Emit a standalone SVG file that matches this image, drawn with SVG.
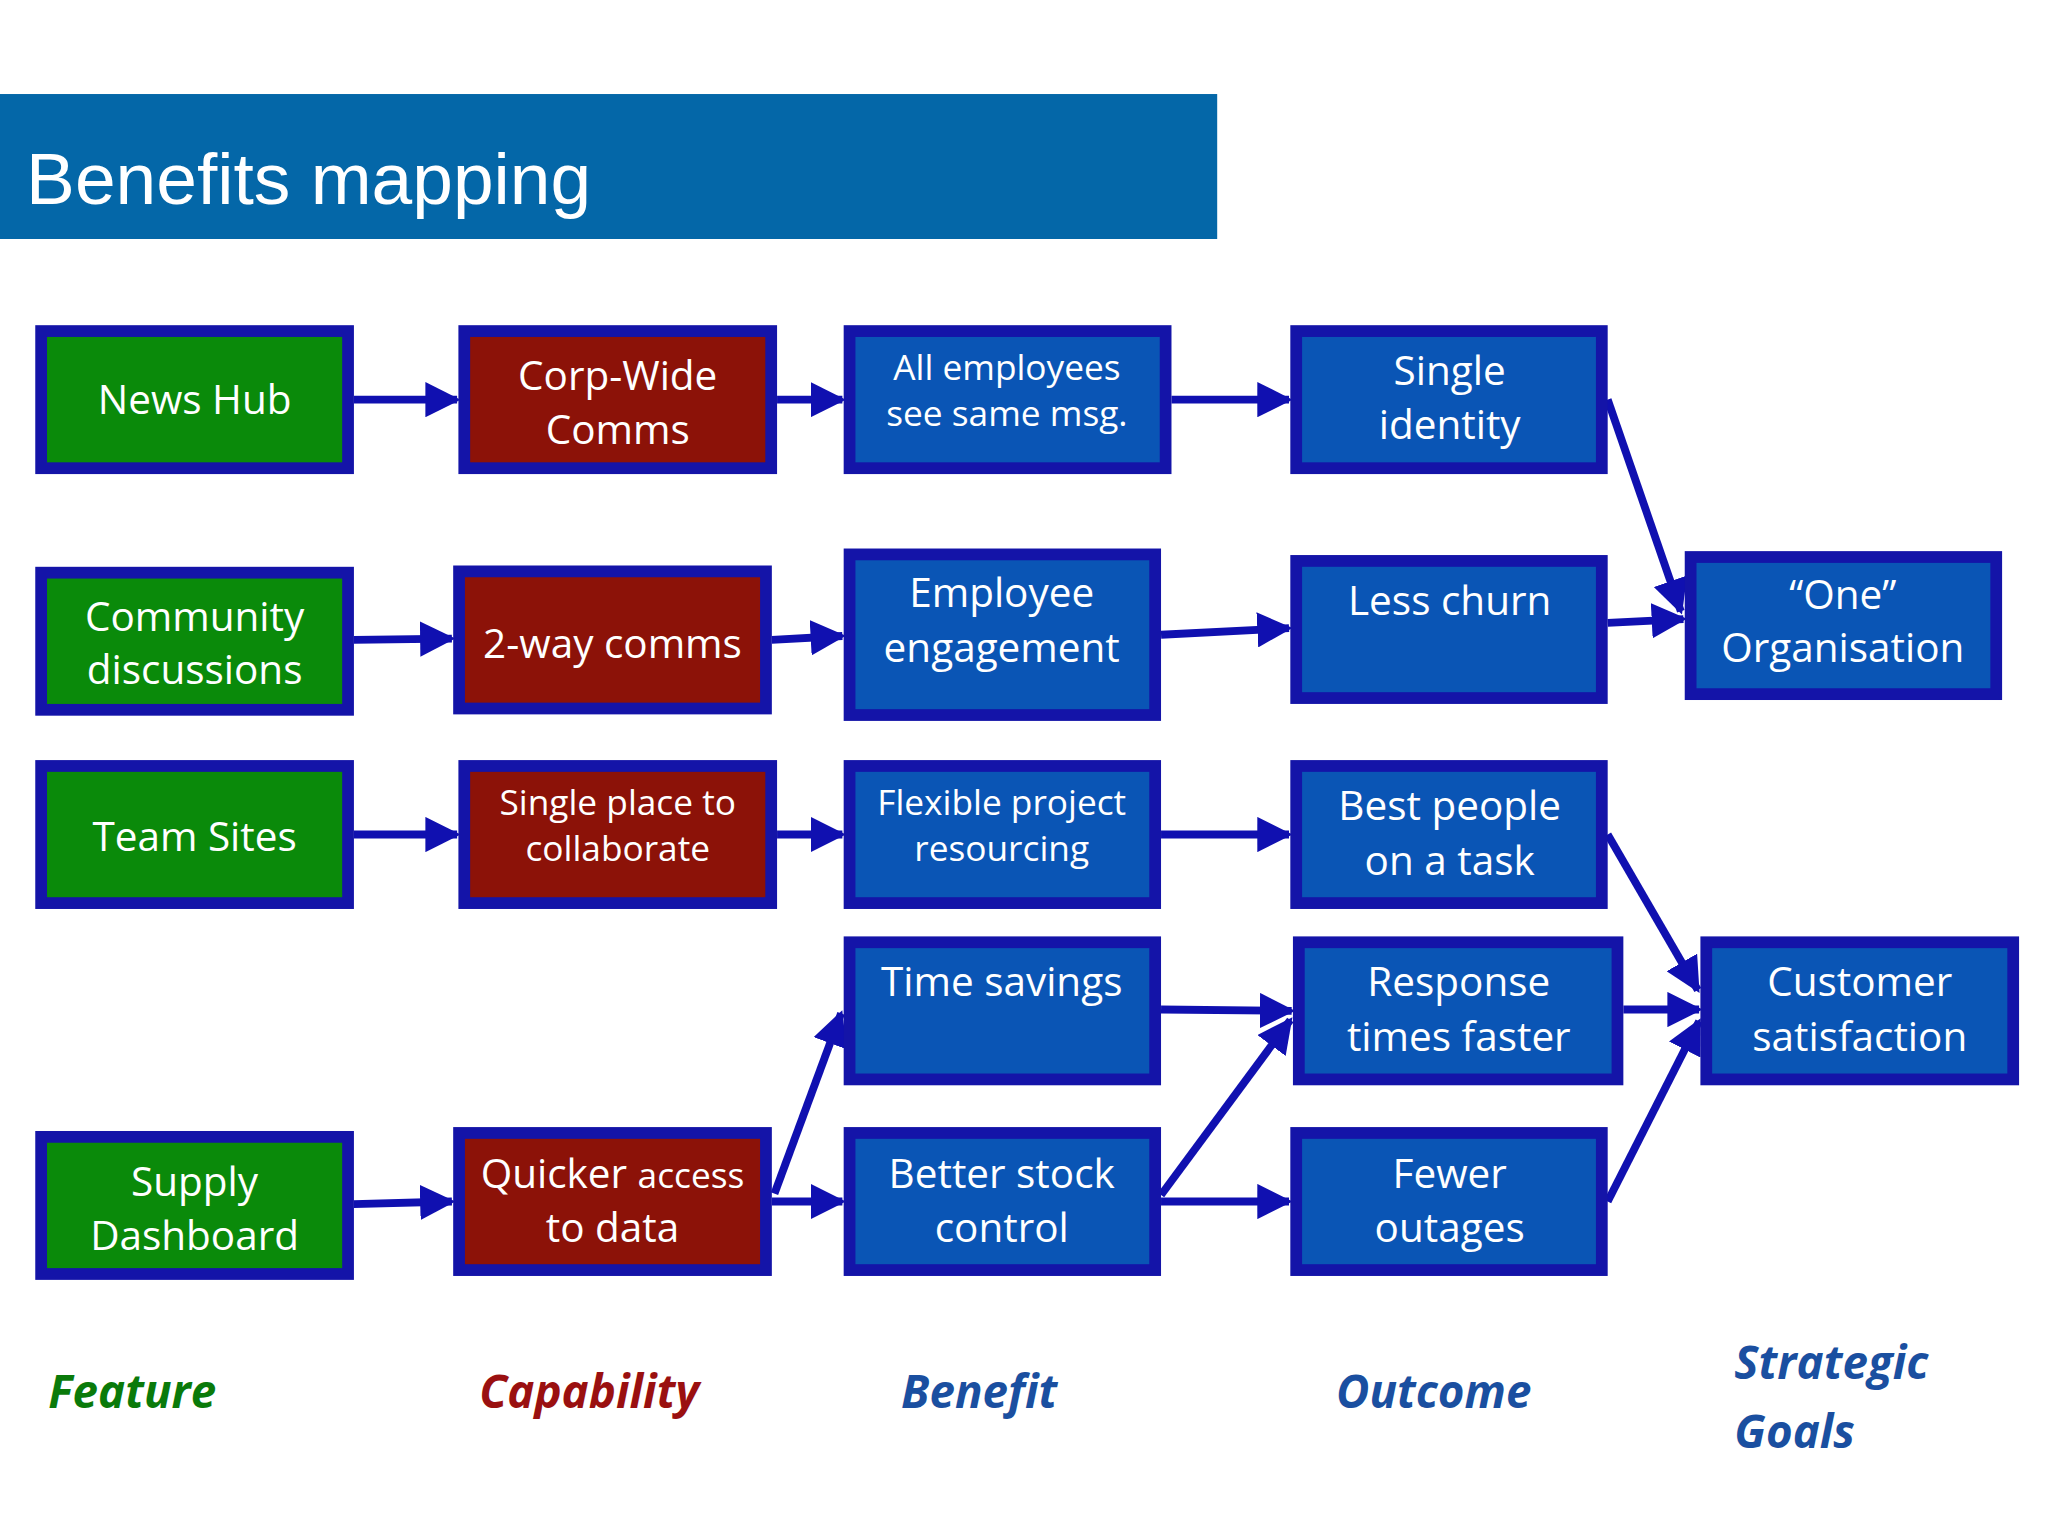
<svg xmlns="http://www.w3.org/2000/svg" width="2048" height="1536" viewBox="0 0 2048 1536">
<defs>
<style>
.b rect{stroke:#1414a8;stroke-width:9}
.g{fill:#0a8a0a}.r{fill:#8c1208}.u{fill:#0a55b5}
.t{font-family:"Open Sans","DejaVu Sans",sans-serif;font-size:31px;fill:#fff;text-anchor:middle}
.s{font-size:27px}
.c line{stroke:#1010b0;stroke-width:6;marker-end:url(#a)}
.l{font-family:"Open Sans","DejaVu Sans",sans-serif;font-weight:bold;font-style:italic;font-size:35px}
</style>
<marker id="a" viewBox="0 0 10 10" refX="9" refY="5" markerWidth="4.5" markerHeight="4.5" orient="auto" markerUnits="strokeWidth"><path d="M0,0L10,5L0,10z" fill="#1010b0"/></marker>
</defs>
<rect width="2048" height="1536" fill="#fff"/>
<g transform="scale(1.306)">
<rect id="header" x="0" y="72" width="932" height="111" fill="#0467a8"/>
<text x="20" y="156" font-family="Liberation Sans,Arial,sans-serif" font-size="56" fill="#fff">Benefits mapping</text>
<g class="c" id="connectors">
<line x1="271" y1="306" x2="350" y2="306"/>
<line x1="595" y1="306" x2="645" y2="306"/>
<line x1="897" y1="306" x2="987" y2="306"/>
<line x1="1231" y1="306" x2="1287" y2="468"/>
<line x1="271" y1="490" x2="346" y2="489"/>
<line x1="591" y1="490" x2="645" y2="487"/>
<line x1="889" y1="486" x2="987" y2="481"/>
<line x1="1231" y1="477" x2="1289" y2="474"/>
<line x1="271" y1="639" x2="350" y2="639"/>
<line x1="595" y1="639" x2="645" y2="639"/>
<line x1="889" y1="639" x2="987" y2="639"/>
<line x1="1231" y1="639" x2="1300" y2="758"/>
<line x1="889" y1="773" x2="989" y2="774"/>
<line x1="1243" y1="773" x2="1301" y2="773"/>
<line x1="1231" y1="920" x2="1301" y2="782"/>
<line x1="271" y1="922" x2="346" y2="920"/>
<line x1="591" y1="920" x2="645" y2="920"/>
<line x1="889" y1="920" x2="987" y2="920"/>
<line x1="593" y1="914" x2="644" y2="776"/>
<line x1="889" y1="915" x2="988" y2="781"/>
</g>
<g class="b">
<g id="n1"><rect class="g" x="31.5" y="253.5" width="235" height="105"/><text class="t" x="149" y="317">News Hub</text></g>
<g id="n2"><rect class="r" x="355.5" y="253.5" width="235" height="105"/><text class="t" x="473" y="299">Corp-Wide</text><text class="t" x="473" y="340">Comms</text></g>
<g id="n3"><rect class="u" x="650.5" y="253.5" width="242" height="105"/><text class="t s" x="771" y="291">All employees</text><text class="t s" x="771" y="326">see same msg.</text></g>
<g id="n4"><rect class="u" x="992.5" y="253.5" width="234" height="105"/><text class="t" x="1110" y="295">Single</text><text class="t" x="1110" y="336">identity</text></g>
<g id="n5"><rect class="g" x="31.5" y="438.5" width="235" height="105"/><text class="t" x="149" y="483">Community</text><text class="t" x="149" y="524">discussions</text></g>
<g id="n6"><rect class="r" x="351.5" y="437.5" width="235" height="105"/><text class="t" x="469" y="504">2-way comms</text></g>
<g id="n7"><rect class="u" x="650.5" y="424.5" width="234" height="123"/><text class="t" x="767" y="465">Employee</text><text class="t" x="767" y="507">engagement</text></g>
<g id="n8"><rect class="u" x="992.5" y="429.5" width="234" height="105"/><text class="t" x="1110" y="471">Less churn</text></g>
<g id="n9"><rect class="u" x="1294.5" y="426.5" width="234" height="105"/><text class="t" x="1411" y="466">“One”</text><text class="t" x="1411" y="507">Organisation</text></g>
<g id="n10"><rect class="g" x="31.5" y="586.5" width="235" height="105"/><text class="t" x="149" y="652">Team Sites</text></g>
<g id="n11"><rect class="r" x="355.5" y="586.5" width="235" height="105"/><text class="t s" x="473" y="624">Single place to</text><text class="t s" x="473" y="659">collaborate</text></g>
<g id="n12"><rect class="u" x="650.5" y="586.5" width="234" height="105"/><text class="t s" x="767" y="624">Flexible project</text><text class="t s" x="767" y="659">resourcing</text></g>
<g id="n13"><rect class="u" x="992.5" y="586.5" width="234" height="105"/><text class="t" x="1110" y="628">Best people</text><text class="t" x="1110" y="670">on a task</text></g>
<g id="n14"><rect class="u" x="650.5" y="721.5" width="234" height="105"/><text class="t" x="767" y="763">Time savings</text></g>
<g id="n15"><rect class="u" x="994.5" y="721.5" width="244" height="105"/><text class="t" x="1117" y="763">Response</text><text class="t" x="1117" y="805">times faster</text></g>
<g id="n16"><rect class="u" x="1306.5" y="721.5" width="235" height="105"/><text class="t" x="1424" y="763">Customer</text><text class="t" x="1424" y="805">satisfaction</text></g>
<g id="n17"><rect class="g" x="31.5" y="870.5" width="235" height="105"/><text class="t" x="149" y="916">Supply</text><text class="t" x="149" y="957">Dashboard</text></g>
<g id="n18"><rect class="r" x="351.5" y="867.5" width="235" height="105"/><text class="t" x="469" y="910">Quicker <tspan class="s">access</tspan></text><text class="t" x="469" y="951">to data</text></g>
<g id="n19"><rect class="u" x="650.5" y="867.5" width="234" height="105"/><text class="t" x="767" y="910">Better stock</text><text class="t" x="767" y="951">control</text></g>
<g id="n20"><rect class="u" x="992.5" y="867.5" width="234" height="105"/><text class="t" x="1110" y="910">Fewer</text><text class="t" x="1110" y="951">outages</text></g>
</g>
<text class="l" x="37" y="1078" fill="#0a7a0a">Feature</text>
<text class="l" x="367" y="1078" fill="#9a1010">Capability</text>
<text class="l" x="690" y="1078" fill="#1a4fa0">Benefit</text>
<text class="l" x="1023" y="1078" fill="#1a4fa0">Outcome</text>
<text class="l" x="1328" y="1056" fill="#1a4fa0" font-size="38">Strategic</text>
<text class="l" x="1328" y="1109" fill="#1a4fa0" font-size="38">Goals</text>
</g>
</svg>
